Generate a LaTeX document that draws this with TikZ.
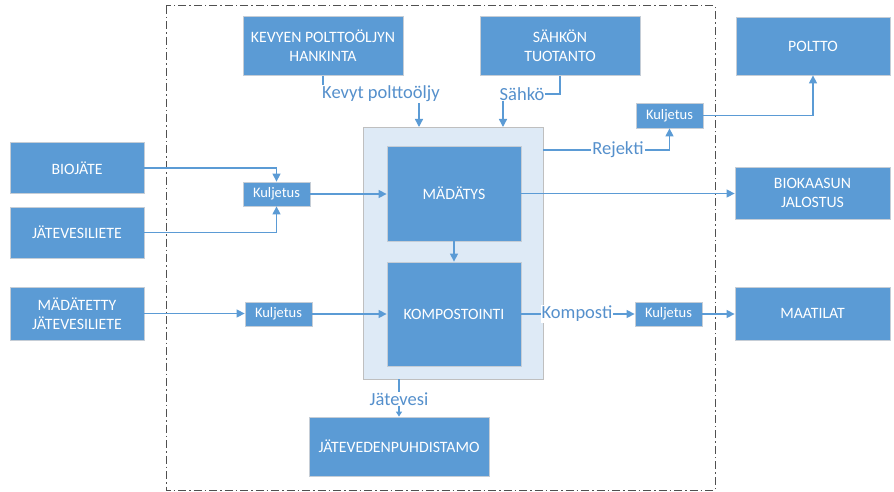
\documentclass[tikz,border=0pt]{standalone}
\usepackage{fontspec}
\setmainfont{Carlito}
\usetikzlibrary{arrows.meta}
\definecolor{boxblue}{HTML}{5B9BD5}
\definecolor{boxedge}{HTML}{C5CDD6}
\definecolor{contfill}{HTML}{DEEAF6}
\definecolor{contedge}{HTML}{BFBFBF}
\definecolor{lineblue}{HTML}{5B9BD5}
\definecolor{labelblue}{HTML}{5590CC}
\definecolor{framegray}{HTML}{505050}
\tikzset{
 box/.style={draw=boxedge, fill=boxblue, text=white, line width=0.8pt, inner sep=0pt, align=center, font=\fontsize{15.8}{19}\selectfont},
 kbox/.style={box, font=\fontsize{14.5}{19}\selectfont},
 contbox/.style={draw=contedge, fill=contfill, line width=0.8pt, inner sep=0pt},
 conn/.style={draw=lineblue, line width=1.4pt, -{Triangle[length=8pt,width=8pt]}},
 smallconn/.style={draw=lineblue, line width=1.4pt, -{Triangle[length=5pt,width=6pt]}},
 lbl/.style={fill=white, text=labelblue, inner sep=1pt, font=\fontsize{18.5}{20}\selectfont},
 framestyle/.style={draw=framegray, line width=1pt, dash pattern=on 8pt off 3pt on 1.5pt off 3pt}
}
\begin{document}
\begin{tikzpicture}[x=1pt,y=-1pt]
\useasboundingbox (0,0) rectangle (894,492);
\draw[framestyle] (166,6) rectangle (715,490);
% container
\node[contbox, minimum width=180pt, minimum height=252pt] (cont) at (453,253) {};
% boxes
\node[box, minimum width=160pt, minimum height=59pt] (kev) at (323,46) {KEVYEN POLTTOÖLJYN\\HANKINTA};
\node[box, minimum width=160pt, minimum height=59pt] (sah) at (560,46) {SÄHKÖN\\TUOTANTO};
\node[box, minimum width=154pt, minimum height=58pt] (pol) at (813,46) {POLTTO};
\node[box, minimum width=134pt, minimum height=95pt] (mad) at (454,193.5) {MÄDÄTYS};
\node[box, minimum width=134pt, minimum height=104pt] (kom) at (454,314) {KOMPOSTOINTI};
\node[box, minimum width=134pt, minimum height=51pt] (bio) at (77,168) {BIOJÄTE};
\node[box, minimum width=134pt, minimum height=51pt] (jvl) at (77,232.5) {JÄTEVESILIETE};
\node[box, minimum width=134pt, minimum height=53pt] (mjv) at (77,313.5) {MÄDÄTETTY\\JÄTEVESILIETE};
\node[kbox, minimum width=67pt, minimum height=24pt] (k1) at (276.5,194) {Kuljetus};
\node[kbox, minimum width=67pt, minimum height=24pt] (k2) at (278.5,314) {Kuljetus};
\node[kbox, minimum width=67pt, minimum height=25pt] (k3) at (669.5,115.5) {Kuljetus};
\node[kbox, minimum width=67pt, minimum height=24pt] (k4) at (668.5,314) {Kuljetus};
\node[box, minimum width=155pt, minimum height=52pt] (bka) at (812.5,193) {BIOKAASUN\\JALOSTUS};
\node[box, minimum width=155pt, minimum height=53pt] (maa) at (812.5,313.5) {MAATILAT};
\node[box, minimum width=180pt, minimum height=59pt] (jvp) at (399,446.5) {JÄTEVEDENPUHDISTAMO};
% coordinates
\coordinate (kevT) at (419,127);
\coordinate (sahT) at (503,127);
\coordinate (rejS) at (543,150);
\coordinate (jvS) at (399,379);
% connectors
\draw[conn] (bio.east) -| (k1.north);
\draw[conn] (jvl.east) -| (k1.south);
\draw[conn] (k1.east) -- (k1.east -| mad.west);
\draw[conn] (mjv.east) -- (mjv.east -| k2.west);
\draw[conn] (k2.east) -- (k2.east -| kom.west);
\draw[conn] (mad.south) -- (kom.north);
\draw[conn] (mad.east) -- (mad.east -| bka.west);
\draw[conn] (rejS) -| (k3.south);
\draw[conn] (k3.east) -| (pol.south);
\draw[conn] (kom.east) -- (kom.east -| k4.west);
\draw[conn] (k4.east) -- (k4.east -| maa.west);
\draw[conn] (kev.south) -- ++(0,18) -| (kevT);
\draw[conn] (sah.south) -- ++(0,18) -| (sahT);
\draw[smallconn] (jvS) -- (jvp.north);
% labels
\node[lbl] (lkev) at (381,94) {Kevyt polttoöljy};
\node[lbl] (lsah) at (522,94) {Sähkö};
\node[lbl] (lrej) at (618,150) {Rejekti};
\node[lbl] (lkom) at (577,314) {Komposti};
\node[lbl] (ljv) at (399,399) {Jätevesi};
\end{tikzpicture}
\end{document}
